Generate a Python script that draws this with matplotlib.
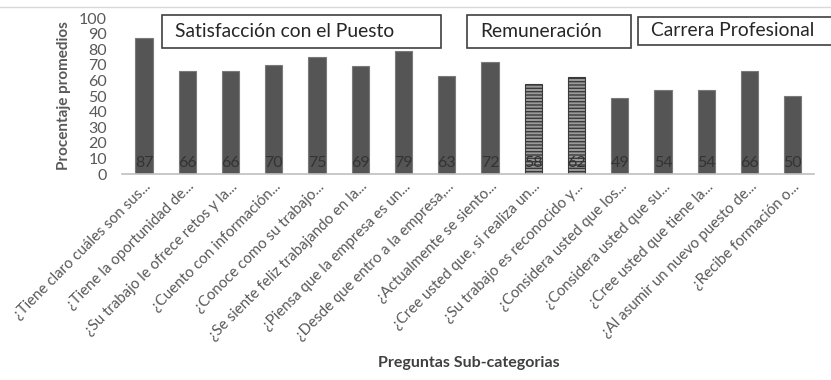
import numpy as np
import matplotlib.pyplot as plt
from matplotlib.lines import Line2D
from matplotlib.patches import Rectangle

plt.rcParams['font.family'] = ['Lato', 'DejaVu Sans']

preguntas = [
    "¿Tiene claro cuáles son sus...",
    "¿Tiene la oportunidad de...",
    "¿Su trabajo le ofrece retos y la...",
    "¿Cuento con información...",
    "¿Conoce como su trabajo...",
    "¿Se siente feliz trabajando en la...",
    "¿Piensa que la empresa es un...",
    "¿Desde que entro a la empresa,...",
    "¿Actualmente se siento...",
    "¿Cree usted que, si realiza un...",
    "¿Su trabajo es reconocido y...",
    "¿Considera usted que los...",
    "¿Considera usted que su...",
    "¿Cree usted que tiene la...",
    "¿Al asumir un nuevo puesto de...",
    "¿Recibe formación o...",
]
porcentajes = [87, 66, 66, 70, 75, 69, 79, 63, 72, 58, 62, 49, 54, 54, 66, 50]
rayadas = [9, 10]  # barras con textura de líneas

categorias = ["Satisfacción con el Puesto", "Remuneración", "Carrera Profesional"]

fig = plt.figure(figsize=(8.31, 3.80), dpi=100)
ax = fig.add_axes([0.1473, 0.542, 0.8326, 0.4105])

x = np.arange(len(porcentajes))
barras = ax.bar(x, porcentajes, width=0.4, color="#555555", edgecolor="#7a7a7a", linewidth=0.8, zorder=2)
for i in rayadas:
    barras[i].set_facecolor("#9a9a9a")
    barras[i].set_hatch("-----")
    barras[i].set_edgecolor("#3a3a3a")

for xi, v in zip(x, porcentajes):
    ax.text(xi, 7, str(v), ha="center", va="center", fontsize=11.5, color="#333333", zorder=3)

ax.set_xlim(-0.5, len(porcentajes) - 0.5)
ax.set_ylim(0, 100)
ax.set_yticks(range(0, 101, 10))
ax.set_xticks(x)
ax.set_xticklabels(preguntas, rotation=45, ha="right", rotation_mode="anchor", fontsize=10.8, color="#595959")
ax.tick_params(axis="y", length=0, labelsize=11.5, labelcolor="#595959", pad=11)
ax.tick_params(axis="x", length=0, pad=4)
for s in ["top", "right", "left"]:
    ax.spines[s].set_visible(False)
ax.spines["bottom"].set_color("#bfbfbf")
ax.spines["bottom"].set_linewidth(1.2)

ax.set_ylabel("Procentaje promedios", fontsize=11, fontweight="bold", color="#595959", labelpad=6)
fig.text(0.564, 0.045, "Preguntas Sub-categorias", ha="center", va="center",
         fontsize=11.5, fontweight="bold", color="#404040")

# cajas con las categorías
cajas = [(162, 15, 279, 33), (467, 15, 164, 33), (638, 17, 200, 28)]
for (bx, by, bw, bh), nombre in zip(cajas, categorias):
    fig.patches.append(Rectangle((bx / 831, 1 - (by + bh) / 380), bw / 831, bh / 380,
                                 transform=fig.transFigure, facecolor="white",
                                 edgecolor="#404040", linewidth=1.2, zorder=5))
    fig.text((bx + 13) / 831, 1 - (by + bh / 2) / 380, nombre, ha="left", va="center",
             fontsize=13.9, color="#262626", zorder=6)

# línea gris superior
fig.add_artist(Line2D([0, 1], [1 - 7 / 380, 1 - 7 / 380], transform=fig.transFigure,
                      color="#d9d9d9", linewidth=1))

fig.savefig("out.png", dpi=100)
